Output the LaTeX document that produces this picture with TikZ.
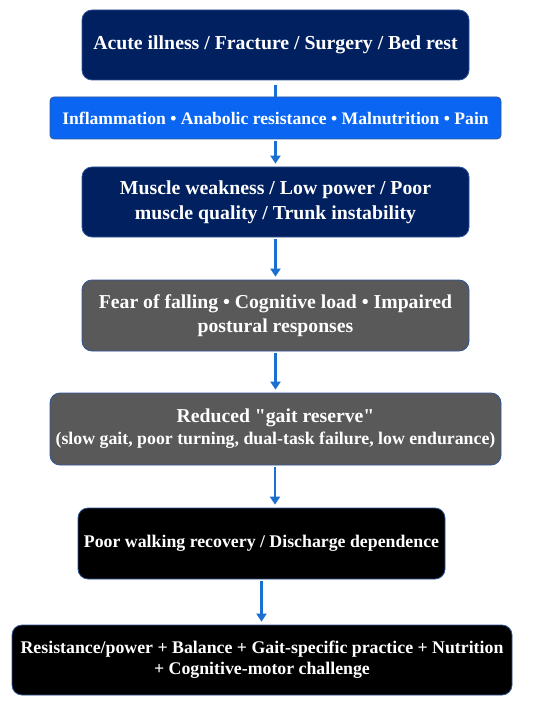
\documentclass[tikz,border=0pt]{standalone}
\usepackage{fontspec}
\setmainfont{Liberation Serif}
\usetikzlibrary{arrows.meta}
\definecolor{navy}{HTML}{002060}
\definecolor{brightblue}{HTML}{0A66F2}
\definecolor{darkgray}{HTML}{595959}
\definecolor{arrowblue}{HTML}{1A6FD0}
\definecolor{edgeblue}{HTML}{2F5597}
\tikzset{
  box/.style={draw=edgeblue, line width=0.8pt, rounded corners=10pt, text=white,
    font=\bfseries, align=center, inner sep=0pt},
  flowarrow/.style={draw=arrowblue, line width=2.6pt,
    -{Triangle[width=10pt,length=8pt]}, shorten <=2pt, shorten >=3pt},
}
\begin{document}
\begin{tikzpicture}[x=1pt,y=-1pt]
\useasboundingbox (0,0) rectangle (550,703);
\node[box, fill=navy, minimum width=387pt, minimum height=70pt, font=\bfseries\fontsize{19.8}{24}\selectfont] (b1) at (275.5,45) {Acute illness / Fracture / Surgery / Bed rest};
\node[box, fill=brightblue, rounded corners=4pt, minimum width=451pt, minimum height=42pt, font=\bfseries\fontsize{17.6}{21}\selectfont] (b2) at (275.5,118) {Inflammation • Anabolic resistance • Malnutrition • Pain};
\node[box, fill=navy, minimum width=387pt, minimum height=70pt, font=\bfseries\fontsize{19.8}{25}\selectfont] (b3) at (275.5,202) {Muscle weakness / Low power / Poor\\muscle quality / Trunk instability};
\node[box, fill=darkgray, minimum width=387pt, minimum height=71pt, font=\bfseries\fontsize{19.7}{24}\selectfont] (b4) at (275.5,315.5) {Fear of falling • Cognitive load • Impaired\\postural responses};
\node[box, fill=darkgray, minimum width=451pt, minimum height=72pt, font=\bfseries\fontsize{19.7}{22}\selectfont] (b5) at (275.5,429) {Reduced \textquotedbl gait reserve\textquotedbl\\{\fontsize{17.8}{21}\selectfont (slow gait, poor turning, dual-task failure, low endurance)}};
\node[box, fill=black, minimum width=367pt, minimum height=71pt, font=\bfseries\fontsize{17.8}{21}\selectfont] (b6) at (261.5,543.5) {Poor walking recovery / Discharge dependence};
\node[box, fill=black, minimum width=500pt, minimum height=70pt, font=\bfseries\fontsize{17.8}{21}\selectfont] (b7) at (262,660) {Resistance/power + Balance + Gait-specific practice + Nutrition\\+ Cognitive-motor challenge};
\draw[draw=arrowblue, line width=2.6pt, shorten <=5pt] (b1.south) -- (b2.north);
\draw[flowarrow] (b2.south) -- (b3.north);
\draw[flowarrow] (b3.south) -- (b4.north);
\draw[flowarrow] (b4.south) -- (b5.north);
\draw[flowarrow] ([xshift=-0.5pt]b5.south) -- ([xshift=-0.5pt]b5.south |- b6.north);
\draw[flowarrow] (b6.south) -- (b6.south |- b7.north);
\end{tikzpicture}
\end{document}
